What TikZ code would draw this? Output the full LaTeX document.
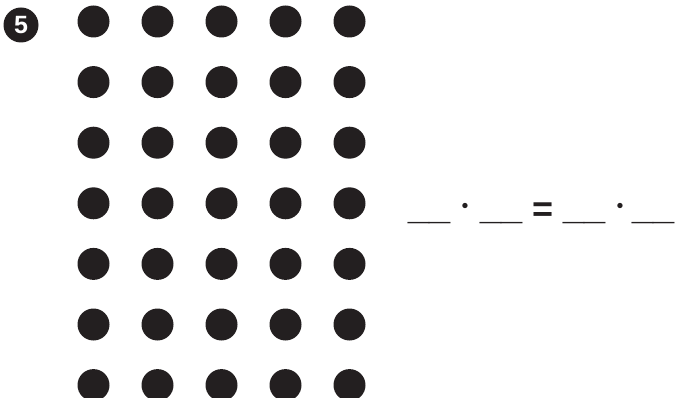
\documentclass[tikz,border=0pt]{standalone}
\usepackage{fontspec}
\setmainfont{Liberation Sans}
\definecolor{ink}{HTML}{231F20}
\begin{document}
\begin{tikzpicture}[x=1pt,y=-1pt,
  dotbox/.style={circle,fill=ink,inner sep=0pt,minimum size=32pt},
  numbox/.style={circle,fill=ink,inner sep=0pt,minimum size=35pt,text=white,font=\fontsize{25}{25}\selectfont\bfseries},
  blank/.style={inner sep=0pt,anchor=south west,text=ink,font=\fontsize{39}{39}\selectfont},
  opbox/.style={inner sep=0pt,text=ink,font=\fontsize{36}{36}\selectfont\bfseries},
  mulbox/.style={inner sep=0pt,anchor=base,text=ink,font=\fontsize{10}{12}\selectfont}]
\useasboundingbox (0,0) rectangle (675,398);
\node[numbox] (num) at (21,25) {5};
\foreach \i in {0,...,4}{
  \foreach \j in {0,...,6}{
    \node[dotbox] (d-\i-\j) at ({93.5+64*\i},{21.5+60.6*\j}) {};
  }
}
\node[blank] (b1) at (408,223.5) {\scalebox{0.97}[0.55]{\_\_}};
\node[mulbox] (m1) at (465.5,218.5) {\scalebox{5}{$\cdot$}};
\node[blank] (b2) at (480,223.5) {\scalebox{0.97}[0.55]{\_\_}};
\node[opbox,anchor=north] (eq) at (543,203) {=};
\node[blank] (b3) at (563,223.5) {\scalebox{0.97}[0.55]{\_\_}};
\node[mulbox] (m2) at (620,218.5) {\scalebox{5}{$\cdot$}};
\node[blank] (b4) at (632,223.5) {\scalebox{0.97}[0.55]{\_\_}};
\end{tikzpicture}
\end{document}
